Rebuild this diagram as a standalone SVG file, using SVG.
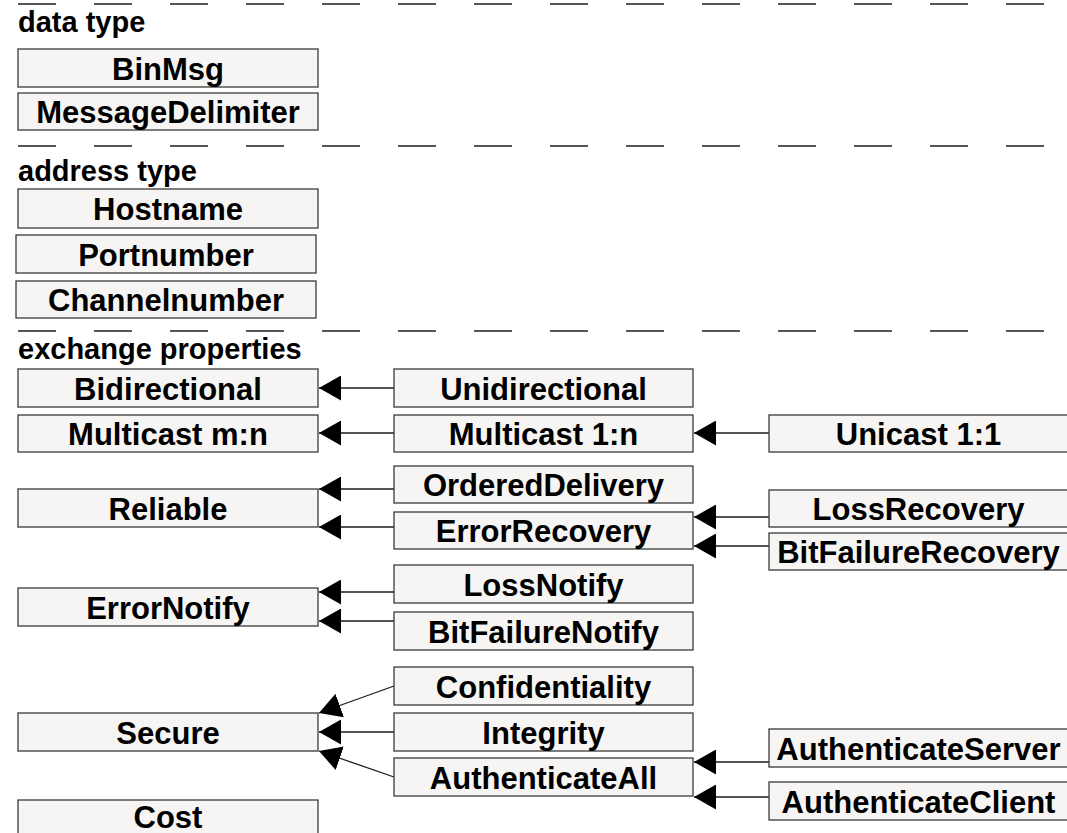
<svg xmlns="http://www.w3.org/2000/svg" width="1067" height="833" viewBox="0 0 1067 833">
<style>
.bg{fill:#ffffff}
.box{fill:#f6f5f4;stroke:#3a3a3a;stroke-width:1.3}
.t{font-family:"Liberation Sans",Arial,sans-serif;font-weight:bold;font-size:31px;fill:#000;text-anchor:middle}
.lbl{font-family:"Liberation Sans",Arial,sans-serif;font-weight:bold;font-size:29px;fill:#000}
.sep{stroke:#555;stroke-width:2;stroke-dasharray:38 38;fill:none}
.c{stroke:#1a1a1a;stroke-width:1.3;fill:none;marker-end:url(#ah)}
</style>
<defs>
<marker id="ah" markerUnits="userSpaceOnUse" viewBox="0 0 22 25" refX="22" refY="12.5" markerWidth="22" markerHeight="25" orient="auto">
<path d="M0,0 L22,12.5 L0,25 Z" fill="#000"/>
</marker>
</defs>
<rect class="bg" x="0" y="0" width="1067" height="833"/>
<g id="separators">
<line class="sep" x1="18" y1="4" x2="1047" y2="4"/>
<line class="sep" x1="18" y1="146" x2="1047" y2="146"/>
<line class="sep" x1="18" y1="331" x2="1047" y2="331"/>
</g>
<g id="labels">
<text class="lbl" x="18" y="32">data type</text>
<text class="lbl" x="18" y="181">address type</text>
<text class="lbl" x="18" y="359">exchange properties</text>
</g>
<g id="connectors">
<line class="c" x1="394" y1="388" x2="319" y2="388"/>
<line class="c" x1="394" y1="433" x2="319" y2="433"/>
<line class="c" x1="769" y1="433" x2="694" y2="433"/>
<line class="c" x1="394" y1="489" x2="319" y2="489"/>
<line class="c" x1="394" y1="527" x2="319" y2="527"/>
<line class="c" x1="769" y1="517" x2="694" y2="517"/>
<line class="c" x1="769" y1="546" x2="694" y2="546"/>
<line class="c" x1="394" y1="592" x2="319" y2="592"/>
<line class="c" x1="394" y1="621" x2="319" y2="621"/>
<line class="c" x1="394" y1="686" x2="319" y2="713"/>
<line class="c" x1="394" y1="732" x2="319" y2="732"/>
<line class="c" x1="394" y1="777" x2="319" y2="751"/>
<line class="c" x1="769" y1="762" x2="694" y2="762"/>
<line class="c" x1="769" y1="797" x2="694" y2="797"/>
</g>
<g id="n-binmsg"><rect class="box" x="18" y="49" width="300" height="38"/><text class="t" x="168" y="79.5">BinMsg</text></g>
<g id="n-messagedelimiter"><rect class="box" x="18" y="93" width="300" height="37"/><text class="t" x="168" y="123">MessageDelimiter</text></g>
<g id="n-hostname"><rect class="box" x="18" y="189" width="300" height="39"/><text class="t" x="168" y="220">Hostname</text></g>
<g id="n-portnumber"><rect class="box" x="16" y="235" width="300" height="38"/><text class="t" x="166" y="265.5">Portnumber</text></g>
<g id="n-channelnumber"><rect class="box" x="16" y="281" width="300" height="37"/><text class="t" x="166" y="311">Channelnumber</text></g>
<g id="n-bidirectional"><rect class="box" x="18" y="369" width="300" height="38"/><text class="t" x="168" y="399.5">Bidirectional</text></g>
<g id="n-unidirectional"><rect class="box" x="394" y="369" width="299" height="38"/><text class="t" x="543.5" y="399.5">Unidirectional</text></g>
<g id="n-multicastmn"><rect class="box" x="18" y="415" width="300" height="37"/><text class="t" x="168" y="445">Multicast m:n</text></g>
<g id="n-multicast1n"><rect class="box" x="394" y="415" width="299" height="37"/><text class="t" x="543.5" y="445">Multicast 1:n</text></g>
<g id="n-unicast"><rect class="box" x="769" y="415" width="299" height="37"/><text class="t" x="918.5" y="445">Unicast 1:1</text></g>
<g id="n-ordereddelivery"><rect class="box" x="394" y="466" width="299" height="37"/><text class="t" x="543.5" y="496">OrderedDelivery</text></g>
<g id="n-reliable"><rect class="box" x="18" y="489" width="300" height="38"/><text class="t" x="168" y="519.5">Reliable</text></g>
<g id="n-errorrecovery"><rect class="box" x="394" y="512" width="299" height="37"/><text class="t" x="543.5" y="542">ErrorRecovery</text></g>
<g id="n-lossrecovery"><rect class="box" x="769" y="490" width="299" height="37"/><text class="t" x="918.5" y="520">LossRecovery</text></g>
<g id="n-bitfailurerecovery"><rect class="box" x="769" y="533" width="299" height="37"/><text class="t" x="918.5" y="563">BitFailureRecovery</text></g>
<g id="n-lossnotify"><rect class="box" x="394" y="565" width="299" height="38"/><text class="t" x="543.5" y="595.5">LossNotify</text></g>
<g id="n-errornotify"><rect class="box" x="18" y="588" width="300" height="38"/><text class="t" x="168" y="618.5">ErrorNotify</text></g>
<g id="n-bitfailurenotify"><rect class="box" x="394" y="612" width="299" height="38"/><text class="t" x="543.5" y="642.5">BitFailureNotify</text></g>
<g id="n-confidentiality"><rect class="box" x="394" y="667" width="299" height="38"/><text class="t" x="543.5" y="697.5">Confidentiality</text></g>
<g id="n-secure"><rect class="box" x="18" y="713" width="300" height="38"/><text class="t" x="168" y="743.5">Secure</text></g>
<g id="n-integrity"><rect class="box" x="394" y="713" width="299" height="38"/><text class="t" x="543.5" y="743.5">Integrity</text></g>
<g id="n-authenticateall"><rect class="box" x="394" y="758" width="299" height="38"/><text class="t" x="543.5" y="788.5">AuthenticateAll</text></g>
<g id="n-authenticateserver"><rect class="box" x="769" y="729" width="299" height="38"/><text class="t" x="918.5" y="759.5">AuthenticateServer</text></g>
<g id="n-authenticateclient"><rect class="box" x="769" y="782" width="299" height="38"/><text class="t" x="918.5" y="812.5">AuthenticateClient</text></g>
<g id="n-cost"><rect class="box" x="18" y="800" width="300" height="38"/><text class="t" x="168" y="828">Cost</text></g>
</svg>
